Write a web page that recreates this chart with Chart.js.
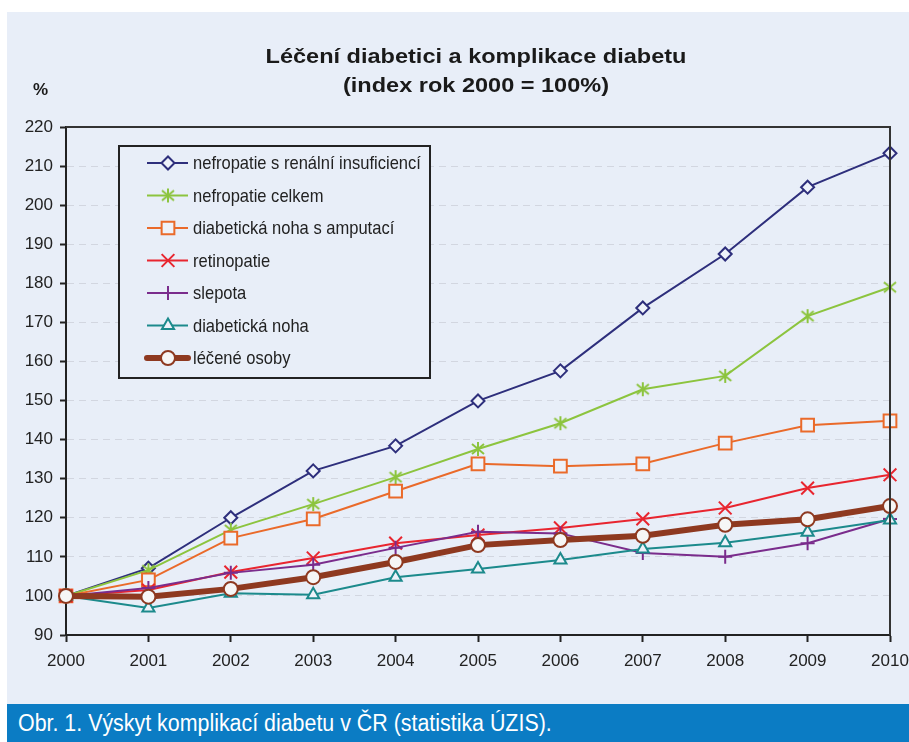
<!DOCTYPE html>
<html>
<head>
<meta charset="utf-8">
<script src="https://cdn.jsdelivr.net/npm/chart.js@4/dist/chart.umd.min.js"></script>
<style>
  html, body { margin: 0; padding: 0; background: #fff; }
  body { width: 909px; height: 742px; position: relative; overflow: hidden; }
  #panel { position: absolute; left: 7px; top: 12px; width: 902px; height: 692px; background: #e8eef8; }
  #chart { position: absolute; left: 0; top: 0; }
  #title { position: absolute; left: 169px; top: 29px; width: 600px; text-align: center;
    font: bold 21px "Liberation Sans", Arial, sans-serif; line-height: 29px; color: #1a1a1a;
    transform: scaleX(1.12); transform-origin: 300px 0; }
  #unit { position: absolute; left: 26px; top: 68px; font: bold 17px "Liberation Sans", Arial, sans-serif; color: #1a1a1a; }
  #caption { position: absolute; left: 7px; top: 704px; width: 902px; height: 38px; background: #0b7cc4; }
  #caption span { position: absolute; left: 11px; top: 0; color: #fff; white-space: nowrap;
    font: 23px "Liberation Sans", Arial, sans-serif; line-height: 38px;
    transform: scaleX(0.93); transform-origin: 0 0; }
</style>
</head>
<body>
<div id="panel">
  <canvas id="chart" width="902" height="692"></canvas>
  <div id="title">Léčení diabetici a komplikace diabetu<br>(index rok 2000 = 100%)</div>
  <div id="unit">%</div>
</div>
<div id="caption"><span>Obr. 1. Výskyt komplikací diabetu v ČR (statistika ÚZIS).</span></div>

<script>
/* ===== DATA ===== */
const years = ["2000","2001","2002","2003","2004","2005","2006","2007","2008","2009","2010"];

const nefroRenal   = [100, 107.1, 120.0, 132.0, 138.4, 149.9, 157.6, 173.7, 187.5, 204.6, 213.3];
const nefroCelkem  = [100, 106.6, 116.9, 123.5, 130.4, 137.6, 144.2, 152.9, 156.3, 171.6, 179.0];
const nohaAmputace = [100, 104.1, 114.8, 119.7, 126.8, 133.8, 133.2, 133.8, 139.1, 143.7, 144.8];
const retinopatie  = [100, 101.5, 106.1, 109.7, 113.5, 115.6, 117.4, 119.7, 122.5, 127.6, 131.0];
const slepota      = [100, 102.0, 105.9, 108.0, 112.3, 116.4, 116.0, 111.0, 110.0, 113.5, 119.7];
const nohaDiab     = [100,  96.9, 100.7, 100.3, 104.8, 106.9, 109.2, 112.0, 113.6, 116.3, 119.4];
const leceni       = [100,  99.8, 101.8, 104.8, 108.7, 113.0, 114.3, 115.4, 118.2, 119.6, 123.0];

const yMin = 90, yMax = 220, yStep = 10;

const BG = "#e8eef8";
const FONT = "'Liberation Sans', Arial, sans-serif";

// asterisk marker (vertical line + X), like the Excel star
function makeStar(color) {
  const c = document.createElement("canvas");
  c.width = 16; c.height = 16;
  const g = c.getContext("2d");
  g.strokeStyle = color;
  g.lineWidth = 2;
  g.beginPath();
  g.moveTo(8, 1); g.lineTo(8, 15);
  g.moveTo(2, 3); g.lineTo(14, 13);
  g.moveTo(14, 3); g.lineTo(2, 13);
  g.stroke();
  return c;
}

function series(label, data, color, style, opts) {
  return Object.assign({
    label: label,
    data: data,
    borderColor: color,
    backgroundColor: color,
    borderWidth: 2,
    pointStyle: style,
    pointRadius: 7,
    pointBorderWidth: 2,
    pointBorderColor: color,
    pointBackgroundColor: "#eef2fa",
    tension: 0
  }, opts || {});
}

const datasets = [
  series("nefropatie s renální insuficiencí", nefroRenal, "#2e2f7c", "rectRot", { pointRadius: 6.5, order: 6 }),
  series("nefropatie celkem", nefroCelkem, "#8cc43e", makeStar("#8cc43e"), { order: 5 }),
  series("diabetická noha s amputací", nohaAmputace, "#ea6a2a", "rect", { pointRadius: 9, order: 4 }),
  series("retinopatie", retinopatie, "#e8252f", "crossRot", { pointRadius: 9, order: 3 }),
  series("slepota", slepota, "#7a2c8c", "cross", { pointRadius: 7, order: 2 }),
  series("diabetická noha", nohaDiab, "#1c8a8c", "triangle", { pointRadius: 7, order: 1 }),
  series("léčené osoby", leceni, "#8e3920", "circle", { borderWidth: 6, pointRadius: 7, pointBackgroundColor: "#f6f6f6", order: 0 })
];

/* ===== PLUGINS ===== */
const frame = {
  id: "frame",
  afterDatasetsDraw(chart) {
    const a = chart.chartArea, ctx = chart.ctx;
    ctx.save();
    ctx.strokeStyle = "#333";
    ctx.lineWidth = 2;
    ctx.beginPath();
    ctx.moveTo(a.left, a.top); ctx.lineTo(a.right, a.top); ctx.lineTo(a.right, a.bottom);
    ctx.stroke();
    ctx.restore();
  }
};

const boxLegend = {
  id: "boxLegend",
  afterDraw(chart) {
    const ctx = chart.ctx, a = chart.chartArea;
    const x0 = a.left + 53, y0 = a.top + 19, w = 311, h = 232;
    ctx.save();
    ctx.fillStyle = BG;
    ctx.fillRect(x0, y0, w, h);
    ctx.strokeStyle = "#222";
    ctx.lineWidth = 2;
    ctx.strokeRect(x0, y0, w, h);
    chart.data.datasets.forEach((ds, i) => {
      const y = y0 + 17 + i * 32.5;
      ctx.strokeStyle = ds.borderColor;
      ctx.lineWidth = ds.borderWidth;
      ctx.lineCap = ds.borderWidth > 3 ? "round" : "butt";
      ctx.beginPath();
      ctx.moveTo(x0 + 28, y); ctx.lineTo(x0 + 69, y);
      ctx.stroke();
      ctx.lineCap = "butt";
      ctx.fillStyle = ds.pointBackgroundColor;
      ctx.strokeStyle = ds.pointBorderColor;
      ctx.lineWidth = ds.pointBorderWidth;
      Chart.helpers.drawPoint(ctx, { pointStyle: ds.pointStyle, radius: ds.pointRadius, rotation: 0, borderWidth: ds.pointBorderWidth }, x0 + 49, y);
      // condensed label text
      ctx.save();
      ctx.translate(x0 + 74, y + 1);
      ctx.scale(0.87, 1);
      ctx.fillStyle = "#222";
      ctx.font = "19px " + FONT;
      ctx.textBaseline = "middle";
      ctx.textAlign = "left";
      ctx.fillText(ds.label, 0, 0);
      ctx.restore();
    });
    ctx.restore();
  }
};

/* ===== CHART ===== */
new Chart(document.getElementById("chart"), {
  type: "line",
  data: { labels: years, datasets: datasets },
  plugins: [frame, boxLegend],
  options: {
    responsive: false,
    animation: false,
    layout: { padding: { top: 115, right: 19, left: 0, bottom: 0 } },
    plugins: { legend: { display: false }, tooltip: { enabled: false }, title: { display: false } },
    scales: {
      x: {
        offset: false,
        afterFit(s) { s.height = 69; s.paddingLeft = 0; s.paddingRight = 0; },
        grid: { drawOnChartArea: false, tickLength: 7, tickColor: "#222", tickWidth: 2 },
        border: { color: "#222", width: 2 },
        ticks: { color: "#222", padding: 9, maxRotation: 0, font: { family: FONT, size: 17 } }
      },
      y: {
        min: yMin, max: yMax,
        afterFit(s) { s.width = 59; s.paddingTop = 0; s.paddingBottom = 0; },
        grid: { color: "#d2d6e0", lineWidth: 1, tickLength: 6, tickColor: "#222", tickWidth: 2 },
        border: { color: "#222", width: 2, dash: [7, 5] },
        ticks: { stepSize: yStep, color: "#222", padding: 7, font: { family: FONT, size: 17 } }
      }
    }
  }
});
</script>
</body>
</html>
